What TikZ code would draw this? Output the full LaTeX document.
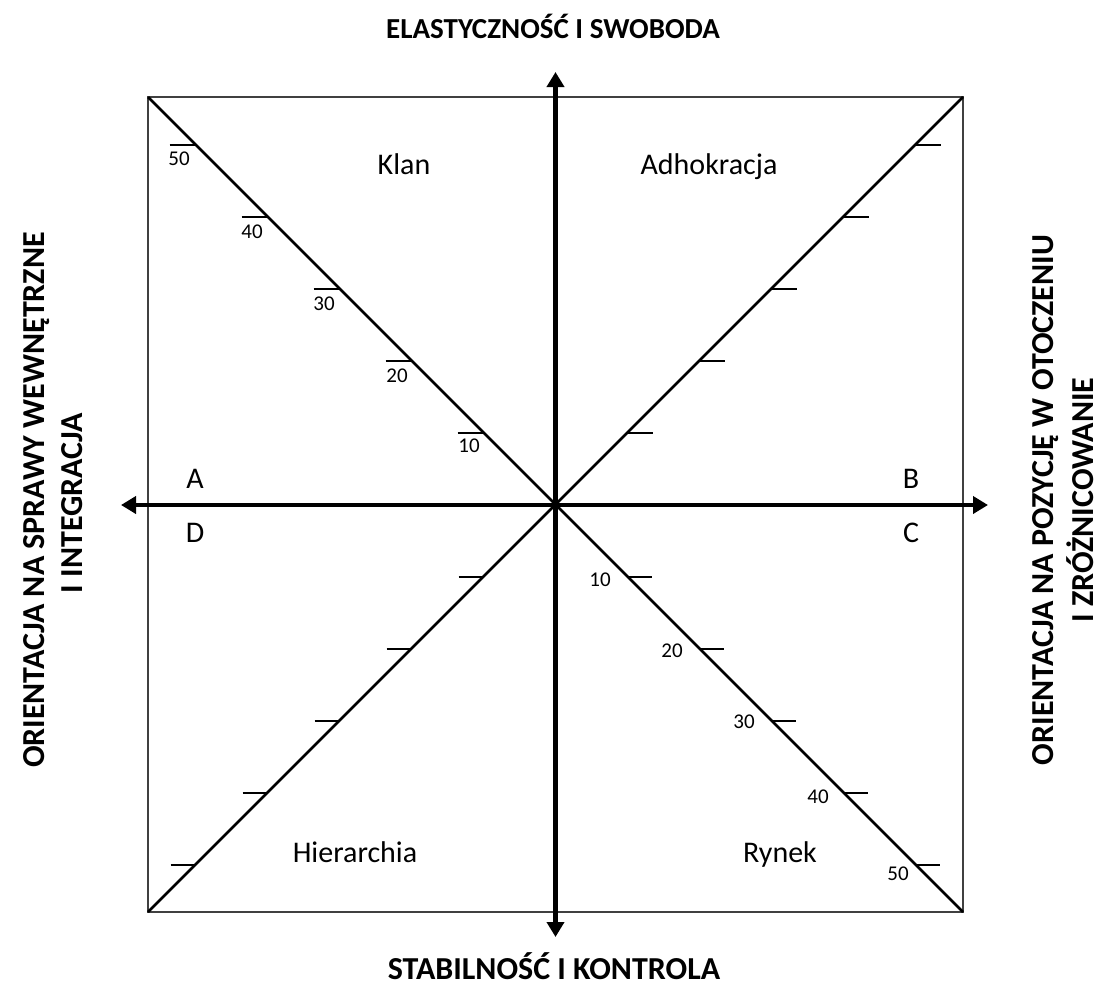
\documentclass[tikz,border=0pt]{standalone}
\usepackage{fontspec}
\setmainfont{Carlito}
\usetikzlibrary{arrows.meta,calc}
\begin{document}
\begin{tikzpicture}[x=1pt,y=-1pt,
  frame/.style={line width=2pt,draw=black!75},
  diag/.style={line width=2.6pt},
  axis/.style={line width=4.5pt,-{Triangle[width=17pt,length=15pt]}},
  tick/.style={line width=2pt},
  quad/.style={font=\fontsize{30}{36}\selectfont,anchor=base,inner sep=0pt},
  num/.style={font=\fontsize{21}{25}\selectfont},
  title/.style={font=\fontsize{29}{40}\selectfont\bfseries,anchor=base,inner sep=0pt},
  vtitle/.style={font=\fontsize{32}{40}\selectfont\bfseries,rotate=90,inner sep=0pt}]
\useasboundingbox (0,0) rectangle (1104,986);
\coordinate (O) at (555.5,505);
\coordinate (TL) at (148,97);
\coordinate (TR) at (963,97);
\coordinate (BR) at (963,912);
\coordinate (BL) at (148,912);
\coordinate (N) at (555.5,72);
\coordinate (S) at (555.5,937);
\coordinate (W) at (121,505);
\coordinate (E) at (988,505);
% frame
\draw[frame] (TL) rectangle (BR);
% diagonals
\draw[diag] (TL) -- (BR);
\draw[diag] (BL) -- (TR);
% ticks
\foreach \k in {1,...,5}{
  \pgfmathsetmacro{\d}{72*\k}
  \draw[tick] ($(O)+(-\d-26,-\d)$) -- ($(O)+(-\d,-\d)$);
  \draw[tick] ($(O)+(\d,-\d)$) -- ($(O)+(\d+25,-\d)$);
  \draw[tick] ($(O)+(-\d-25,\d)$) -- ($(O)+(-\d,\d)$);
  \draw[tick] ($(O)+(\d,\d)$) -- ($(O)+(\d+24,\d)$);
}
% axes
\draw[axis] (O) -- (N);
\draw[axis] (O) -- (S);
\draw[axis] (O) -- (W);
\draw[axis] (O) -- (E);
% numbers top-left
\node[num] (tl10) at (469,446) {10};
\node[num] (tl20) at (397,376) {20};
\node[num] (tl30) at (324,304) {30};
\node[num] (tl40) at (252,232) {40};
\node[num] (tl50) at (179,159) {50};
% numbers bottom-right
\node[num] (br10) at (600,580) {10};
\node[num] (br20) at (672,651) {20};
\node[num] (br30) at (744,722) {30};
\node[num] (br40) at (818,797) {40};
\node[num] (br50) at (898,874) {50};
% quadrant labels
\node[quad] (klan) at (404,174) {Klan};
\node[quad] (adho) at (709,174) {Adhokracja};
\node[quad] (hier) at (355,862) {Hierarchia};
\node[quad] (rynek) at (780,862) {Rynek};
\node[quad] (A) at (195,488) {A};
\node[quad] (B) at (911,488) {B};
\node[quad] (D) at (195,542) {D};
\node[quad] (C) at (911,542) {C};
% titles
\node[title] (top) at (553,38) {ELASTYCZNOŚĆ I SWOBODA};
\node[title,font=\fontsize{32}{40}\selectfont\bfseries] (bot) at (554,979) {STABILNOŚĆ I KONTROLA};
\node[vtitle] (left1) at (37,500) {ORIENTACJA NA SPRAWY WEWNĘTRZNE};
\node[vtitle] (left2) at (72,503) {I INTEGRACJA};
\node[vtitle] (right1) at (1046,500) {ORIENTACJA NA POZYCJĘ W OTOCZENIU};
\node[vtitle] (right2) at (1080,500) {I ZRÓŻNICOWANIE};
\end{tikzpicture}
\end{document}
